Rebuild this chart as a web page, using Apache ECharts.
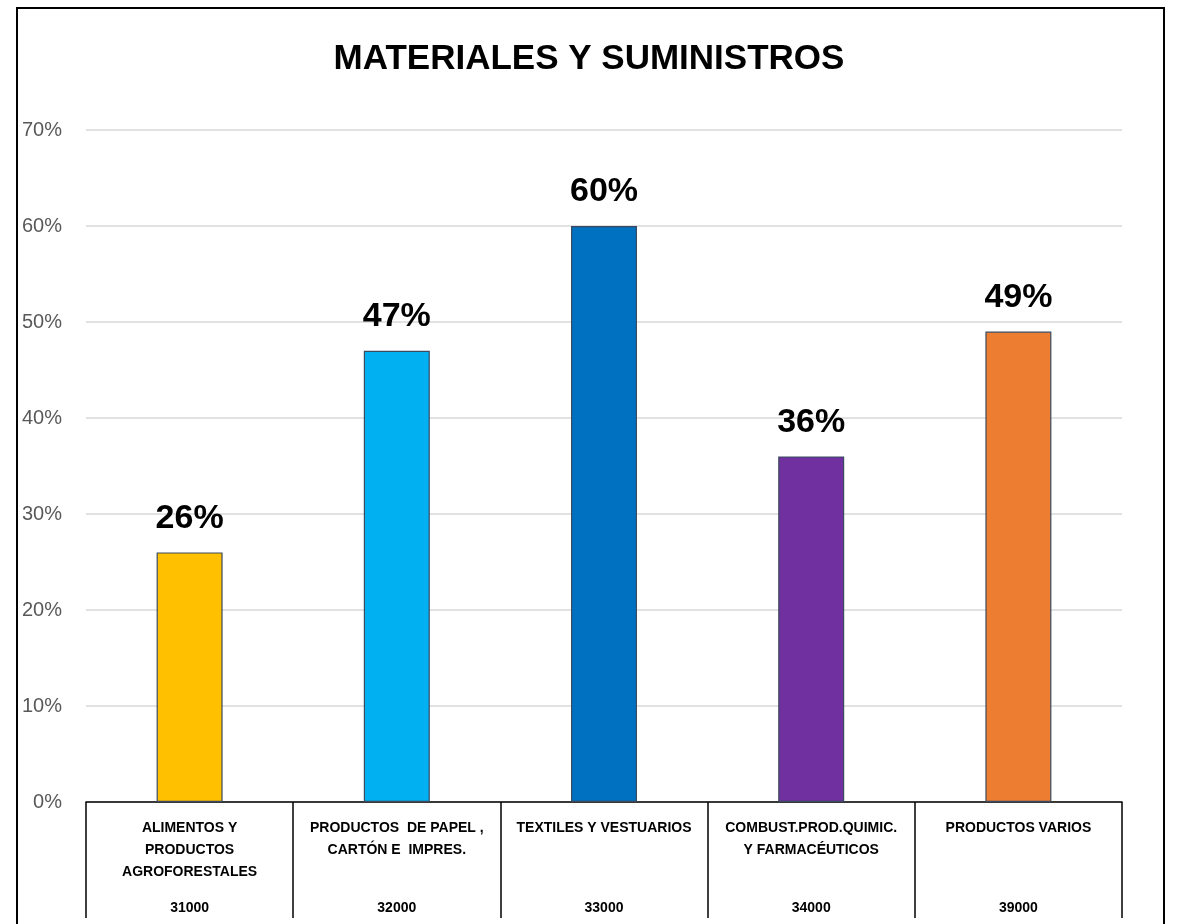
<!DOCTYPE html>
<html>
<head>
<meta charset="utf-8">
<script src="https://cdn.jsdelivr.net/npm/echarts@6/dist/echarts.min.js"></script>
<style>
  html, body { margin: 0; padding: 0; background: #fff; }
  #chart { width: 1178px; height: 924px; }
</style>
</head>
<body>
<div id="chart"></div>
<script>
// chart data
const categories = [
  'ALIMENTOS Y\nPRODUCTOS\nAGROFORESTALES',
  'PRODUCTOS  DE PAPEL ,\nCARTÓN E  IMPRES.',
  'TEXTILES Y VESTUARIOS',
  'COMBUST.PROD.QUIMIC.\nY FARMACÉUTICOS',
  'PRODUCTOS VARIOS'
]
const codes = ['31000', '32000', '33000', '34000', '39000']
const values = [26, 47, 60, 36, 49]
const barColors = ['#FFC000', '#00B0F0', '#0070C0', '#7030A0', '#ED7D31']

const font = '"Liberation Sans", Arial, sans-serif'

let myChart = echarts.init(document.getElementById('chart'))

myChart.setOption({
  backgroundColor: '#fff',
  animation: false,
  title: {
    text: 'MATERIALES Y SUMINISTROS',
    left: 'center',
    top: 37,
    textStyle: { fontFamily: font, fontSize: 35, fontWeight: 'bold', color: '#000' }
  },
  graphic: [{
    type: 'rect',
    shape: { x: 17, y: 8, width: 1147, height: 940 },
    style: { fill: 'none', stroke: '#000', lineWidth: 2 },
    silent: true
  }],
  grid: { left: 86, right: 56, top: 130, bottom: 122 },
  xAxis: [{
    type: 'category',
    data: categories,
    axisLine: { lineStyle: { color: '#000', width: 1.5 } },
    axisTick: { show: true, interval: 0, length: 116, lineStyle: { color: '#000', width: 1.5 } },
    axisLabel: {
      interval: 0,
      margin: 15,
      fontFamily: font,
      fontSize: 14,
      fontWeight: 'bold',
      color: '#000',
      lineHeight: 22
    }
  }, {
    type: 'category',
    position: 'bottom',
    data: codes,
    axisLine: { show: false },
    axisTick: { show: false },
    axisLabel: {
      interval: 0,
      margin: 99,
      fontFamily: font,
      fontSize: 14,
      fontWeight: 'bold',
      color: '#000'
    }
  }],
  yAxis: {
    type: 'value',
    min: 0,
    max: 70,
    interval: 10,
    axisLine: { show: false },
    axisTick: { show: false },
    splitLine: { lineStyle: { color: '#D9D9D9', width: 1.5 } },
    axisLabel: {
      formatter: '{value}%',
      margin: 24,
      fontFamily: font,
      fontSize: 20,
      color: '#595959'
    }
  },
  series: [{
    type: 'bar',
    barWidth: 66,
    data: values.map((v, i) => ({ value: v, itemStyle: { color: barColors[i] } })),
    itemStyle: { borderColor: '#3B4A5E', borderWidth: 1.2 },
    label: {
      show: true,
      position: 'top',
      distance: 17,
      formatter: '{c}%',
      fontFamily: font,
      fontSize: 34,
      fontWeight: 'bold',
      color: '#000'
    }
  }]
})
</script>
</body>
</html>
